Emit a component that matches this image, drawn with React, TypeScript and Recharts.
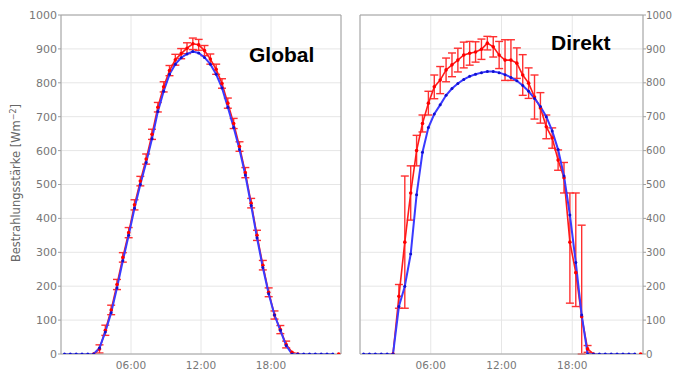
import type { ReactElement } from "react";
import {
  CartesianGrid,
  ErrorBar,
  Line,
  LineChart,
  ReferenceLine,
  XAxis,
  YAxis,
} from "recharts";

// half-hourly time stamps (hours of day)
const hours = [
  0.3, 0.8, 1.3, 1.8, 2.3, 2.8, 3.3, 3.8, 4.3, 4.8, 5.3, 5.8, 6.3, 6.8, 7.3,
  7.8, 8.3, 8.8, 9.3, 9.8, 10.3, 10.8, 11.3, 11.8, 12.3, 12.8, 13.3, 13.8,
  14.3, 14.8, 15.3, 15.8, 16.3, 16.8, 17.3, 17.8, 18.3, 18.8, 19.3, 19.8, 20.3,
  20.8, 21.3, 21.8, 22.3, 22.8, 23.3, 23.8,
];

// Global: measured (red, with error) and model (blue)
const globalMeasured = [
  null, null, null, null, null, 0, 15, 70, 130, 205, 285, 358, 440, 510, 575,
  648, 728, 788, 836, 868, 886, 902, 915, 912, 895, 870, 840, 798, 740, 680,
  612, 535, 445, 350, 262, 182, 115, 72, 28, 5, 0, null, null, null, null,
  null, null, 0,
];
const globalErr = [
  null, null, null, null, null, null, 12, 15, 14, 15, 14, 15, 15, 14, 15, 15,
  14, 15, 15, 16, 15, 16, 17, 16, 15, 15, 15, 14, 15, 15, 14, 15, 14, 15, 14,
  13, 12, 12, 10, null, null, null, null, null, null, null, null, null,
];
const globalModel = [
  0, 0, 0, 0, 0, 0, 18, 65, 122, 195, 275, 350, 430, 500, 565, 635, 715, 775,
  825, 855, 874, 885, 892, 888, 875, 855, 825, 785, 728, 668, 603, 528, 438,
  343, 255, 178, 115, 70, 25, 0, 0, 0, 0, 0, 0, 0, 0, null,
];

// Direkt: measured (red, with error) and model (blue)
const directMeasured = [
  null, null, null, null, null, 0, 170, 330, 475, 600, 680, 740, 788, 808, 838,
  853, 867, 882, 887, 891, 899, 917, 906, 882, 867, 867, 858, 823, 799, 758,
  726, 670, 637, 572, 520, 330, 240, 110, 15, 0, null, null, null, null, null,
  null, null, 0,
];
const directErr: (number | [number, number] | null)[] = [
  null, null, null, null, null, null, 35, 195, 80, 45, 25, 35, 35, 40, 35, 35,
  35, 38, 35, 30, 30, 20, 30, 40, 60, 60, 45, 60, 45, 65, 45, 35, 30, 30, 45,
  [180, 145], [100, 235], [110, 270], 10, null, null, null, null, null, null,
  null, null, null,
];
const directModel = [
  0, 0, 0, 0, 0, 0, 140, 200, 295, 470, 595, 668, 708, 735, 763, 783, 798, 810,
  819, 825, 830, 833, 833, 830, 824, 816, 806, 792, 775, 754, 730, 700, 658,
  603, 525, 410, 270, 115, 0, 0, 0, 0, 0, 0, 0, 0, 0, null,
];

const xTicks = [6, 12, 18];
const yTicks = [0, 100, 200, 300, 400, 500, 600, 700, 800, 900, 1000];

type Row = {
  t: number;
  measured: number | null;
  err: number | [number, number] | null;
  model: number | null;
};

function buildRows(
  measured: (number | null)[],
  err: (number | [number, number] | null)[],
  model: (number | null)[]
): Row[] {
  return hours.map((t, i) => ({
    t,
    measured: measured[i],
    err: err[i],
    model: model[i],
  }));
}

const tickStyle = { fontSize: 11, fill: "#777", fontFamily: "DejaVu Sans" };
const rightTickStyle = { ...tickStyle, fontSize: 10.2 };
const xTickStyle = { ...tickStyle, fontSize: 10.5 };
const frame = "#a0a0a0";

interface PanelProps {
  rows: Row[];
  side: "left" | "right";
}

function Panel({ rows, side }: PanelProps): ReactElement {
  const isLeft = side === "left";
  return (
    <LineChart
      width={isLeft ? 350 : 333}
      height={371}
      data={rows}
      margin={{ top: 15, right: isLeft ? 9 : 0, bottom: 0, left: isLeft ? 0 : 20 }}
    >
      <CartesianGrid stroke="#e6e6e6" />
      <XAxis
        dataKey="t"
        type="number"
        domain={[0, 24]}
        ticks={xTicks}
        tickFormatter={(v: number) => `${String(v).padStart(2, "0")}:00`}
        height={17}
        tickLine={false}
        tickMargin={2}
        tick={xTickStyle}
        stroke={frame}
        allowDataOverflow
      />
      <YAxis
        orientation={side}
        width={isLeft ? 61 : 30}
        domain={[0, 1000]}
        ticks={yTicks}
        interval={0}
        tickSize={3}
        tickMargin={isLeft ? 1 : 0}
        tick={isLeft ? tickStyle : rightTickStyle}
        stroke={frame}
        allowDataOverflow
      />
      <ReferenceLine y={1000} stroke={frame} />
      <ReferenceLine x={isLeft ? 24 : 0} stroke={frame} />
      <Line
        dataKey="measured"
        type="linear"
        stroke="#ff1a1a"
        strokeWidth={1.6}
        dot={{ r: 1.8, fill: "#ff0000", stroke: "none" }}
        isAnimationActive={false}
      >
        <ErrorBar
          dataKey="err"
          direction="y"
          width={4}
          stroke="#ff3030"
          strokeWidth={1.4}
        />
      </Line>
      <Line
        dataKey="model"
        type="linear"
        stroke="#3a3aff"
        strokeWidth={2}
        dot={{ r: 1.5, fill: "#1010d0", stroke: "none" }}
        isAnimationActive={false}
      />
    </LineChart>
  );
}

export default function App(): ReactElement {
  const globalRows = buildRows(globalMeasured, globalErr, globalModel);
  const directRows = buildRows(directMeasured, directErr, directModel);
  return (
    <div
      style={{
        position: "absolute",
        left: 0,
        top: 0,
        width: 673,
        height: 371,
        background: "white",
        overflow: "hidden",
      }}
    >
      <div style={{ position: "absolute", left: 0, top: 0 }}>
        <Panel rows={globalRows} side="left" />
      </div>
      <div style={{ position: "absolute", left: 340, top: 0 }}>
        <Panel rows={directRows} side="right" />
      </div>
      <svg
        width={673}
        height={371}
        style={{ position: "absolute", left: 0, top: 0, pointerEvents: "none" }}
      >
        <text
          x={249}
          y={62}
          fontFamily="Liberation Sans, Arial, sans-serif"
          fontWeight="bold"
          fontSize={21}
          fill="#000"
        >
          Global
        </text>
        <text
          x={551}
          y={50}
          fontFamily="Liberation Sans, Arial, sans-serif"
          fontWeight="bold"
          fontSize={21}
          fill="#000"
        >
          Direkt
        </text>
        <text
          transform="translate(20, 183) rotate(-90)"
          textAnchor="middle"
          fontFamily="DejaVu Sans"
          fontSize={11.5}
          fill="#666"
        >
          Bestrahlungsstärke [Wm
          <tspan dy={-4} fontSize={8}>
            −2
          </tspan>
          <tspan dy={4}>]</tspan>
        </text>
      </svg>
    </div>
  );
}
